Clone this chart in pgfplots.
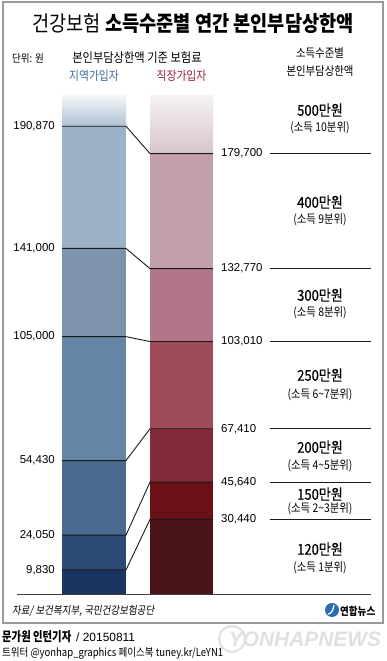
\documentclass[border=0pt]{standalone}
\usepackage{fontspec}
\usepackage{pgfplots}
\pgfplotsset{compat=1.18}
\setmainfont{Liberation Sans}
\newfontfamily\kr[FakeStretch=0.87]{Noto Sans CJK KR}
\newfontfamily\krm[FakeStretch=0.87,FakeBold=0.45]{Noto Sans CJK KR}
\newfontfamily\krf[FakeStretch=0.8]{Noto Sans CJK KR}
\newfontfamily\krsl[FakeStretch=0.87,FakeSlant=0.15]{Noto Sans CJK KR}
\definecolor{lfade}{HTML}{AFC1D3}
\definecolor{lfadetop}{HTML}{F4F6F9}
\definecolor{l6}{HTML}{9CB2C8}
\definecolor{l5}{HTML}{7E94AE}
\definecolor{l4}{HTML}{6585A6}
\definecolor{l3}{HTML}{4B6A8F}
\definecolor{l2}{HTML}{2C4A74}
\definecolor{l1}{HTML}{1B3461}
\definecolor{rfade}{HTML}{D6C4CC}
\definecolor{rfadetop}{HTML}{F6F2F4}
\definecolor{r6}{HTML}{C39FAE}
\definecolor{r5}{HTML}{B17688}
\definecolor{r4}{HTML}{9E4B5C}
\definecolor{r3}{HTML}{832A38}
\definecolor{r2}{HTML}{6C1018}
\definecolor{r1}{HTML}{4A1318}
\definecolor{jblue}{HTML}{3F6C9C}
\definecolor{jred}{HTML}{9B2335}
\definecolor{frame}{HTML}{9A9A9A}
\definecolor{lnk}{HTML}{1A1A1A}
\definecolor{logoblue}{HTML}{2B6CB5}
\begin{document}
\begin{tikzpicture}
\path[use as bounding box] (0,0) rectangle (387bp,-661bp);
\fill[white] (0,0) rectangle (387bp,-661bp);
\begin{axis}[anchor=south west, at={(0bp,-594bp)}, x=1bp, y=0.00245bp,
  xmin=0, xmax=387, ymin=0, ymax=210000, hide axis, clip=false]
% top fades
\addplot[draw=none, top color=lfadetop, bottom color=lfade] coordinates {(62,190870)(126,190870)(126,203500)(62,203500)};
\addplot[draw=none, top color=rfadetop, bottom color=rfade] coordinates {(150,179700)(213,179700)(213,203500)(150,203500)};
% left bar (Jiyeok)
\addplot[ybar, bar width=64bp, bar shift=0pt, draw=none, fill=l6] coordinates {(94,190870)};
\addplot[ybar, bar width=64bp, bar shift=0pt, draw=none, fill=l5] coordinates {(94,141000)};
\addplot[ybar, bar width=64bp, bar shift=0pt, draw=none, fill=l4] coordinates {(94,105000)};
\addplot[ybar, bar width=64bp, bar shift=0pt, draw=none, fill=l3] coordinates {(94,54430)};
\addplot[ybar, bar width=64bp, bar shift=0pt, draw=none, fill=l2] coordinates {(94,24050)};
\addplot[ybar, bar width=64bp, bar shift=0pt, draw=none, fill=l1] coordinates {(94,9830)};
% right bar (Jikjang)
\addplot[ybar, bar width=63bp, bar shift=0pt, draw=none, fill=r6] coordinates {(181.5,179700)};
\addplot[ybar, bar width=63bp, bar shift=0pt, draw=none, fill=r5] coordinates {(181.5,132770)};
\addplot[ybar, bar width=63bp, bar shift=0pt, draw=none, fill=r4] coordinates {(181.5,103010)};
\addplot[ybar, bar width=63bp, bar shift=0pt, draw=none, fill=r3] coordinates {(181.5,67410)};
\addplot[ybar, bar width=63bp, bar shift=0pt, draw=none, fill=r2] coordinates {(181.5,45640)};
\addplot[ybar, bar width=63bp, bar shift=0pt, draw=none, fill=r1] coordinates {(181.5,30440)};
% connectors
\addplot[lnk, line width=0.9bp] coordinates {(62,190870)(126,190870)(150,179700)(213,179700)};
\addplot[lnk, line width=0.9bp] coordinates {(62,141000)(126,141000)(150,132770)(213,132770)};
\addplot[lnk, line width=0.9bp] coordinates {(62,105000)(126,105000)(150,103010)(213,103010)};
\addplot[lnk, line width=0.9bp] coordinates {(62,54430)(126,54430)(150,67410)(213,67410)};
\addplot[lnk, line width=0.9bp] coordinates {(62,24050)(126,24050)(150,45640)(213,45640)};
\addplot[lnk, line width=0.9bp] coordinates {(62,9830)(126,9830)(150,30440)(213,30440)};
% right reference lines
\addplot[lnk, line width=0.9bp] coordinates {(270,179700)(371,179700)};
\addplot[lnk, line width=0.9bp] coordinates {(270,132770)(371,132770)};
\addplot[lnk, line width=0.9bp] coordinates {(270,103010)(371,103010)};
\addplot[lnk, line width=0.9bp] coordinates {(270,67410)(371,67410)};
\addplot[lnk, line width=0.9bp] coordinates {(270,45640)(371,45640)};
\addplot[lnk, line width=0.9bp] coordinates {(270,30440)(371,30440)};
% baseline
\addplot[black!75, line width=0.9bp] coordinates {(17,0)(371,0)};
% value labels
\begin{scope}[every node/.style={font=\fontsize{11.5}{12}\selectfont, inner sep=0pt}]
\node[anchor=east] at (axis cs:55,190870) {190,870};
\node[anchor=east] at (axis cs:55,141000) {141,000};
\node[anchor=east] at (axis cs:55,105000) {105,000};
\node[anchor=east] at (axis cs:55,54430) {54,430};
\node[anchor=east] at (axis cs:55,24050) {24,050};
\node[anchor=east] at (axis cs:55,9830) {9,830};
\node[anchor=west] at (axis cs:221,179700) {179,700};
\node[anchor=west] at (axis cs:221,132770) {132,770};
\node[anchor=west] at (axis cs:221,103010) {103,010};
\node[anchor=west] at (axis cs:221,67410) {67,410};
\node[anchor=west] at (axis cs:221,45640) {45,640};
\node[anchor=west] at (axis cs:221,30440) {30,440};
\end{scope}
\end{axis}
\begin{scope}[x=1bp, y=-1bp]
% frame
\draw[frame, line width=1.4bp] (3,2) rectangle (383,623);
% title
\node[font={\kr\fontsize{21.5}{23}\selectfont}, inner sep=0pt] at (193,23) {건강보험 \bfseries 소득수준별 연간 본인부담상한액};
% headers
\node[font={\kr\fontsize{11}{12}\selectfont}, anchor=west, inner sep=0pt] at (12,58) {단위: 원};
\node[font={\kr\fontsize{13}{14}\selectfont}, inner sep=0pt] at (137,58) {본인부담상한액 기준 보험료};
\node[font={\kr\fontsize{12.5}{14}\selectfont}, text=jblue, inner sep=0pt] at (94,76) {지역가입자};
\node[font={\kr\fontsize{12.5}{14}\selectfont}, text=jred, inner sep=0pt] at (181.5,76) {직장가입자};
\node[font={\kr\fontsize{12}{13}\selectfont}, inner sep=0pt] at (320,53) {소득수준별};
\node[font={\kr\fontsize{12}{13}\selectfont}, inner sep=0pt] at (320,71) {본인부담상한액};
% income brackets
\begin{scope}[every node/.style={inner sep=0pt}]
\node[font={\krm\fontsize{15}{16}\selectfont}] at (320,110) {500만원};
\node[font={\kr\fontsize{12}{13}\selectfont}] at (320,128) {(소득 10분위)};
\node[font={\krm\fontsize{15}{16}\selectfont}] at (320,202) {400만원};
\node[font={\kr\fontsize{12}{13}\selectfont}] at (320,220) {(소득 9분위)};
\node[font={\krm\fontsize{15}{16}\selectfont}] at (320,295) {300만원};
\node[font={\kr\fontsize{12}{13}\selectfont}] at (320,313) {(소득 8분위)};
\node[font={\krm\fontsize{15}{16}\selectfont}] at (320,375) {250만원};
\node[font={\kr\fontsize{12}{13}\selectfont}] at (320,395) {(소득 6\textasciitilde 7분위)};
\node[font={\krm\fontsize{15}{16}\selectfont}] at (320,447) {200만원};
\node[font={\kr\fontsize{12}{13}\selectfont}] at (320,466) {(소득 4\textasciitilde 5분위)};
\node[font={\krm\fontsize{15}{16}\selectfont}] at (320,494) {150만원};
\node[font={\kr\fontsize{12}{13}\selectfont}] at (320,509) {(소득 2\textasciitilde 3분위)};
\node[font={\krm\fontsize{15}{16}\selectfont}] at (320,549) {120만원};
\node[font={\kr\fontsize{12}{13}\selectfont}] at (320,568) {(소득 1분위)};
\end{scope}
% source
\node[font={\krsl\fontsize{11}{12}\selectfont}, anchor=west, inner sep=0pt] at (12,611) {자료/ 보건복지부, 국민건강보험공단};
\fill[logoblue] (332,610) circle (7);
\draw[white, line width=1.3bp] (334,605) .. controls (333,611) and (331,614) .. (328,614);
\node[font={\kr\bfseries\fontsize{11}{12}\selectfont}, anchor=west, inner sep=0pt] at (340,611) {연합뉴스};
% watermark
\node[font={\bfseries\itshape\fontsize{21}{22}\selectfont}, text=black!12, inner sep=0pt] at (305,639) {YONHAPNEWS};
\draw[black!12, line width=2bp] (232,639) circle (13);
% footer
\node[font={\krf\bfseries\fontsize{13}{14}\selectfont}, anchor=west, inner sep=0pt] at (2,637) {문가원 인턴기자};
\node[font={\fontsize{12}{13}\selectfont}, anchor=west, inner sep=0pt] at (76,637) {/ 20150811};
\node[font={\kr\fontsize{11}{12}\selectfont}, anchor=west, inner sep=0pt] at (2,653) {트위터 @yonhap\_graphics 페이스북 tuney.kr/LeYN1};
\end{scope}
\end{tikzpicture}
\end{document}
